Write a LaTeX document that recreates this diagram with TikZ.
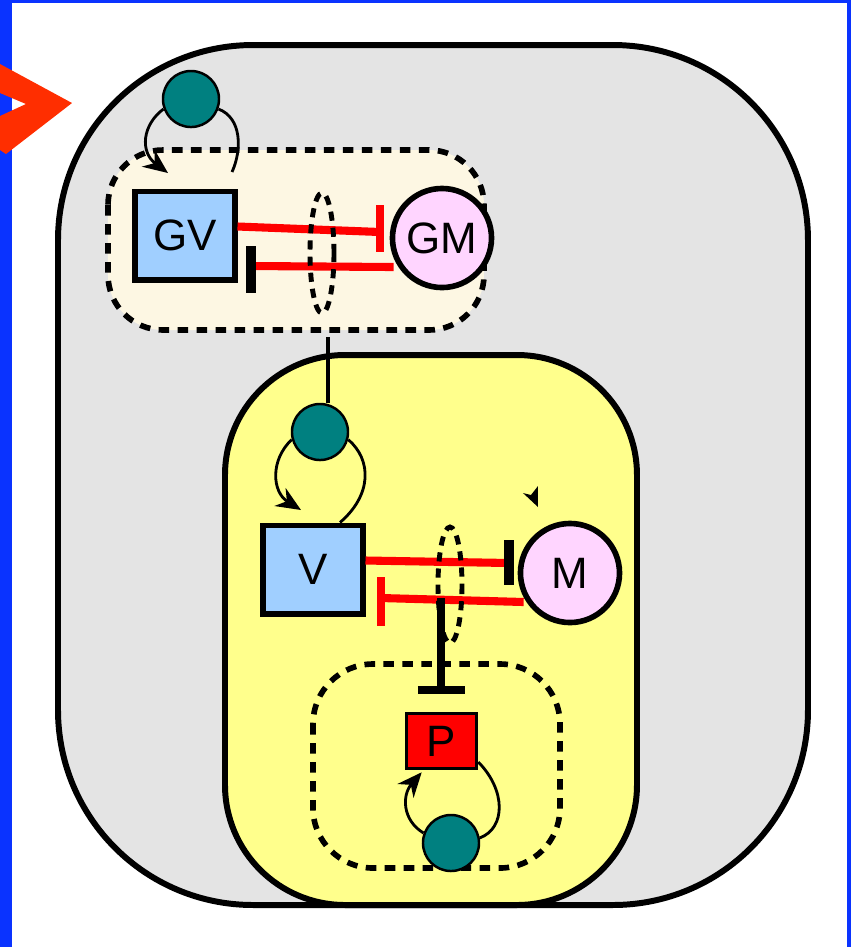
\documentclass[tikz,border=0pt]{standalone}
\usepackage{fontspec}
\setmainfont{Liberation Sans}
\usetikzlibrary{calc, positioning, arrows.meta}

\definecolor{framebl}{HTML}{0A33FF}
\definecolor{pointerred}{HTML}{FF2E00}
\definecolor{cellgray}{HTML}{E4E4E4}
\definecolor{groupcream}{HTML}{FDF7E3}
\definecolor{nucyellow}{HTML}{FFFF8C}
\definecolor{geneblue}{HTML}{A0CFFF}
\definecolor{protpink}{HTML}{FFD5FF}
\definecolor{ligteal}{HTML}{008080}

\begin{document}
\begin{tikzpicture}[x=0.01cm, y=-0.01cm,
  gene/.style={draw, line width=1.7pt, fill=geneblue, minimum width=0.99cm,
    minimum height=0.88cm, inner sep=0pt, font=\fontsize{12.5}{14}\selectfont},
  prot/.style={draw, circle, line width=1.6pt, fill=protpink, minimum size=0.99cm,
    inner sep=0pt, font=\fontsize{12.5}{14}\selectfont},
  lig/.style={draw, circle, line width=0.7pt, fill=ligteal, minimum size=0.56cm, inner sep=0pt},
  wall/.style={draw, line width=1.7pt},
  grp/.style={draw, line width=1.6pt, dash pattern=on 3pt off 2.4pt},
  inhib/.style={red, line width=2.3pt},
  bar/.style={line width=2.7pt},
  selfloop/.style={line width=0.8pt}]

  \useasboundingbox (0,0) rectangle (851,947);
  \fill[white] (0,0) rectangle (851,947);

  % frame
  \fill[framebl] (0,0) rectangle (12,947);
  \fill[framebl] (0,0) rectangle (851,3);
  \fill[framebl] (847,0) rectangle (851,947);
  \fill[pointerred] (0,64) -- (72,103) -- (6,154) -- (0,150) -- (0,116) -- (26,104) -- (0,93) -- cycle;

  % compartments
  \draw[wall, fill=cellgray, rounded corners=1.95cm] (58,45) rectangle (808,905);
  \draw[wall, fill=nucyellow, rounded corners=1.2cm] (225,355) rectangle (637,905);
  \draw[grp, fill=groupcream, rounded corners=0.55cm] (108,150) rectangle (484,330);
  \draw[grp, rounded corners=0.6cm] (313,664) rectangle (560,868);

  % species
  \node[gene] (gv) at (185,235.5) {GV};
  \node[prot] (gm) at (442,238) {GM};
  \node[gene] (v) at (313,569.5) {V};
  \node[prot] (m) at (570,573) {M};
  \node[draw, line width=1pt, fill=red, minimum width=0.7cm, minimum height=0.55cm,
    inner sep=0pt, font=\fontsize{12.5}{14}\selectfont] (p) at (441.5,741) {P};
  \node[lig] (ta) at (191,99) {};
  \node[lig] (tb) at (320,432) {};
  \node[lig] (tc) at (451,843) {};

  % GV -| GM, GM -| GV
  \coordinate (gm-bar) at (380,232);
  \coordinate (gv-bar) at (251,266);
  \draw[inhib] ($(gv.east)+(0,-9)$) to (gm-bar);
  \draw[inhib, line width=2.5pt] ($(gm-bar)+(0,-27)$) to ($(gm-bar)+(0,20)$);
  \draw[inhib] ($(gm.west)+(4,29)$) to (gv-bar);
  \draw[bar] ($(gv-bar)+(0,-20)$) to ($(gv-bar)+(0,27)$);
  \draw[line width=1.4pt, dash pattern=on 2.6pt off 2pt] (322,253) ellipse [x radius=12, y radius=60];

  % V -| M, M -| V
  \coordinate (m-bar) at (509,563);
  \coordinate (v-bar) at (381,598);
  \draw[inhib] ($(v.east)+(0,-9)$) to (m-bar);
  \draw[bar] ($(m-bar)+(0,-23)$) to ($(m-bar)+(0,22)$);
  \draw[inhib] ($(m.west)+(6,29)$) to (v-bar);
  \draw[inhib, line width=2.5pt] ($(v-bar)+(0,-21)$) to ($(v-bar)+(0,28)$);
  \draw[line width=1.4pt, dash pattern=on 2.6pt off 2pt] (450,585) ellipse [x radius=12, y radius=58];

  % repression of P
  \coordinate (p-bar) at (441,690);
  \draw[line width=2pt] (p-bar |- v-bar) to (p-bar);
  \draw[line width=2pt] ($(p-bar)+(-23,0)$) to ($(p-bar)+(24,0)$);

  % link between groups
  \coordinate (grp-link) at (328,337);
  \draw[line width=1.2pt] (grp-link) to (grp-link |- tb.north);

  % ligand loops
  \draw[selfloop, -{Stealth[length=7pt, width=6pt]}] (ta.200) .. controls (142,125) and (140,152) .. (168,173);
  \draw[selfloop] (ta.-20) .. controls (242,118) and (242,150) .. (232,172);
  \draw[selfloop, -{Stealth[length=7pt, width=6pt]}] (tb.195) .. controls (270,460) and (272,492) .. (301,510);
  \draw[selfloop] (tb.-15) .. controls (372,460) and (372,495) .. ($(v.north)+(27,0)$);
  \draw[selfloop, -{Stealth[length=7pt, width=6pt]}] (tc.160) .. controls (402,820) and (402,795) .. ($(p.south west)+(17,2)$);
  \draw[selfloop] ($(p.east)+(0,21)$) .. controls (506,790) and (506,828) .. (tc.10);

  % stray tip
  \fill (538,507) -- (523,493) -- (531,495) -- (538,486) -- cycle;

\end{tikzpicture}
\end{document}
